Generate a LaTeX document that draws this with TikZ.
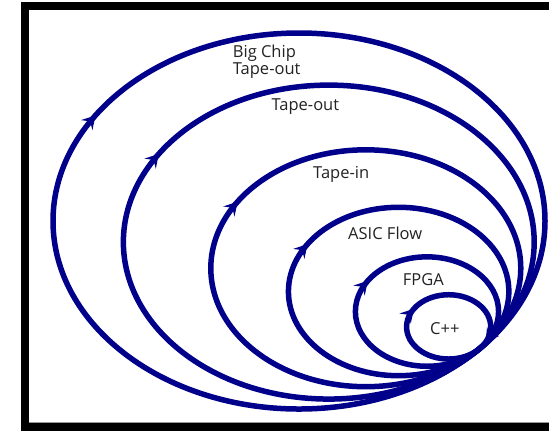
\documentclass[tikz,border=0pt]{standalone}
\usepackage{fontspec}
\setmainfont{Open Sans}
\usetikzlibrary{calc,arrows.meta,decorations.markings}
\definecolor{ringblue}{RGB}{0,0,139}
\definecolor{labelgray}{RGB}{35,35,35}
\begin{document}
\begin{tikzpicture}[x=1bp,y=-1bp,
  tipstyle/.tip={Stealth[length=13bp,width=15bp,inset=5bp]},
  ring/.style={draw=ringblue,line width=5.5bp,postaction={decorate},
    decoration={markings,mark=at position 0.585 with {\arrow{tipstyle}}}},
  ringtwo/.style={draw=ringblue,line width=5.5bp,postaction={decorate},
    decoration={markings,mark=at position 0.07 with {\arrow{tipstyle}},
      mark=at position 0.585 with {\arrow{tipstyle}}}},
  lbl/.style={inner sep=0pt,text=labelgray,font=\fontsize{16.5bp}{17.3bp}\selectfont,anchor=base west}]
\useasboundingbox (0,0) rectangle (549,431);
\fill[white] (0,0) rectangle (549,431);
% frame
\fill[black] (21,2) rectangle (29,431);
\fill[black] (21,2) rectangle (549,10);
\fill[black] (21,423) rectangle (549,431);
\fill[black!40] (29,422) rectangle (549,423);
% common tangent point and outer centre
\coordinate (C) at (299,221);
\coordinate (P) at (479.5,348.7);
% rings
\draw[ring] ($(P)!1!(C)$) ellipse [x radius=246, y radius=188];
\draw[ring] ($(P)!0.835!(C)$) ellipse [x radius={0.835*246}, y radius={0.835*188}];
\draw[ring] ($(P)!0.63!(C)$) ellipse [x radius={0.63*246}, y radius={0.63*188}];
\draw[ring] ($(P)!0.448!(C)$) ellipse [x radius={0.448*246}, y radius={0.448*188}];
\draw[ring] ($(P)!0.291!(C)$) ellipse [x radius={0.291*246}, y radius={0.291*188}];
\draw[ringtwo] ($(P)!0.171!(C)$) ellipse [x radius={0.171*246}, y radius={0.171*188}];
% labels
\node[lbl,anchor=north west,align=left] (bigchip) at (232.7,44.5) {Big Chip\\Tape-out};
\node[lbl] (tapeout) at (271.4,110.7) {Tape-out};
\node[lbl] (tapein) at (313,178.5) {Tape-in};
\node[lbl] (asic) at (348,239.3) {ASIC Flow};
\node[lbl] (fpga) at (402.7,285.7) {FPGA};
\node[lbl] (cpp) at (430,334.3) {C++};
\end{tikzpicture}
\end{document}
